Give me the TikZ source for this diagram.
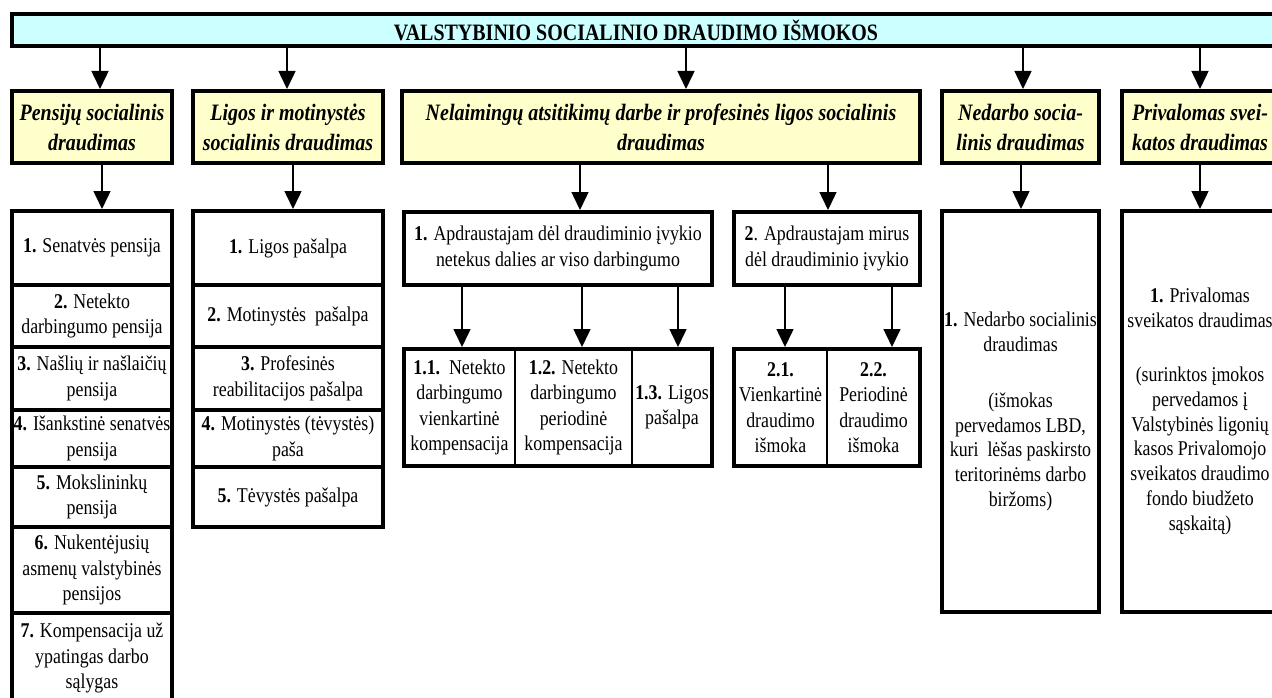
\documentclass[tikz,border=0pt]{standalone}
\usepackage{fontspec}
\setmainfont{Liberation Serif}[FakeStretch=0.85]
\usetikzlibrary{arrows.meta}
\definecolor{bancyan}{HTML}{CCFFFF}
\definecolor{catyellow}{HTML}{FFFFCC}
\tikzset{
  thickbox/.style={draw, line width=4pt, inner sep=0pt, align=center, anchor=center},
  banner/.style={thickbox, fill=bancyan},
  bantext/.style={inner sep=0pt, font=\fontsize{23.5}{28}\selectfont\bfseries},
  cat/.style={thickbox, fill=catyellow, font=\fontsize{23.5}{30}\selectfont\bfseries\itshape},
  item/.style={thickbox, fill=white, font=\fontsize{21}{25.5}\selectfont},
  tallitem/.style={thickbox, fill=white, font=\fontsize{21}{24.8}\selectfont},
  cell/.style={inner sep=0pt, align=center, anchor=center, font=\fontsize{21}{25.5}\selectfont},
  divider/.style={line width=1.5pt},
  arr/.style={line width=1.5pt, -{Triangle[width=17pt,length=18pt]}},
}
\begin{document}
\begin{tikzpicture}[x=1pt,y=-1pt]
\useasboundingbox (0,0) rectangle (1272,698);
\clip (0,0) rectangle (1272,698);

% x positions of connectors
\foreach \n/\x in {a1/100,a2/287,a3/686,a4/1023,a5/1200,
                   b1/102,b2/293,b3/580,b4/828,b5/1021,b6/1200,
                   c1/462,c2/582,c3/678,c4/785,c5/892}
  \coordinate (\n) at (\x,0);

% banner
\node[banner, minimum width=1278pt, minimum height=32pt] (banner) at (651,30) {};
\node[bantext] (bannertext) at (636,30) {VALSTYBINIO SOCIALINIO DRAUDIMO IŠMOKOS};

% level 2
\node[cat, minimum width=160pt, minimum height=72pt] (pens) at (92,127) {Pensijų socialinis\\draudimas};
\node[cat, minimum width=190pt, minimum height=72pt] (ligos) at (288,127) {Ligos ir motinystės\\socialinis draudimas};
\node[cat, minimum width=518pt, minimum height=72pt] (nel) at (661,127) {Nelaimingų atsitikimų darbe ir profesinės ligos socialinis\\draudimas};
\node[cat, minimum width=157pt, minimum height=72pt] (ned) at (1020.5,127) {Nedarbo socia-\\linis draudimas};
\node[cat, minimum width=156pt, minimum height=72pt] (priv) at (1200,127) {Privalomas svei-\\katos draudimas};

% pensions list
\node[item, minimum width=160pt, minimum height=74pt] (p1) at (92,248) {\textbf{1.} Senatvės pensija};
\node[item, minimum width=160pt, minimum height=62pt] (p2) at (92,316) {\textbf{2.} Netekto\\darbingumo pensija};
\node[item, minimum width=160pt, minimum height=63pt] (p3) at (92,378.5) {\textbf{3.} Našlių ir našlaičių\\pensija};
\node[item, minimum width=160pt, minimum height=57pt] (p4) at (92,438.5) {\textbf{4.} Išankstinė senatvės\\pensija};
\node[item, minimum width=160pt, minimum height=60pt] (p5) at (92,497) {\textbf{5.} Mokslininkų\\pensija};
\node[item, minimum width=160pt, minimum height=86pt] (p6) at (92,570) {\textbf{6.} Nukentėjusių\\asmenų valstybinės\\pensijos};
\node[item, minimum width=160pt, minimum height=90pt] (p7) at (92,658) {\textbf{7.} Kompensacija už\\ypatingas darbo\\sąlygas};

% sickness list
\node[item, minimum width=190pt, minimum height=74pt] (l1) at (288,248) {\textbf{1.} Ligos pašalpa};
\node[item, minimum width=190pt, minimum height=62pt] (l2) at (288,316) {\textbf{2.} Motinystės\ \ pašalpa};
\node[item, minimum width=190pt, minimum height=63pt] (l3) at (288,378.5) {\textbf{3.} Profesinės\\reabilitacijos pašalpa};
\node[item, minimum width=190pt, minimum height=57pt] (l4) at (288,438.5) {\textbf{4.} Motinystės (tėvystės)\\paša};
\node[item, minimum width=190pt, minimum height=60pt] (l5) at (288,497) {\textbf{5.} Tėvystės pašalpa};

% accidents
\node[item, minimum width=308pt, minimum height=73pt] (n1) at (558,248.5) {\textbf{1.} Apdraustajam dėl draudiminio įvykio\\netekus dalies ar viso darbingumo};
\node[item, minimum width=186pt, minimum height=73pt] (n2) at (827,248.5) {\textbf{2}. Apdraustajam mirus\\dėl draudiminio įvykio};

\node[item, minimum width=308pt, minimum height=117pt] (s1) at (558,407.5) {};
\node[cell, minimum width=111pt, minimum height=117pt] (c11) at (459.5,407.5) {\textbf{1.1.}\ \ Netekto\\darbingumo\\vienkartinė\\kompensacija};
\node[cell, minimum width=117pt, minimum height=117pt] (c12) at (573.5,407.5) {\textbf{1.2.} Netekto\\darbingumo\\periodinė\\kompensacija};
\node[cell, minimum width=80pt, minimum height=117pt] (c13) at (672,407.5) {\textbf{1.3.} Ligos\\pašalpa};
\draw[divider] (c11.north east) -- (c11.south east);
\draw[divider] (c12.north east) -- (c12.south east);

\node[item, minimum width=186pt, minimum height=117pt] (s2) at (827,407.5) {};
\node[cell, minimum width=93pt, minimum height=117pt] (c21) at (780.5,407.5) {\textbf{2.1.}\\Vienkartinė\\draudimo\\išmoka};
\node[cell, minimum width=93pt, minimum height=117pt] (c22) at (873.5,407.5) {\textbf{2.2.}\\Periodinė\\draudimo\\išmoka};
\draw[divider] (c21.north east) -- (c21.south east);

% unemployment
\node[tallitem, minimum width=157pt, minimum height=401pt] (ned3) at (1020.5,411.5)
  {\textbf{1.} Nedarbo socialinis\\draudimas\\[31pt](išmokas\\pervedamos LBD,\\kuri\ \ lėšas paskirsto\\teritorinėms darbo\\biržoms)};
% health
\node[tallitem, minimum width=156pt, minimum height=401pt] (priv3) at (1200,411.5)
  {\textbf{1.} Privalomas\\sveikatos draudimas\\[29pt](surinktos įmokos\\pervedamos į\\Valstybinės ligonių\\kasos Privalomojo\\sveikatos draudimo\\fondo biudžeto\\sąskaitą)};

% connectors banner -> categories
\draw[arr] (banner.south -| a1) -- (pens.north -| a1);
\draw[arr] (banner.south -| a2) -- (ligos.north -| a2);
\draw[arr] (banner.south -| a3) -- (nel.north -| a3);
\draw[arr] (banner.south -| a4) -- (ned.north -| a4);
\draw[arr] (banner.south -| a5) -- (priv.north -| a5);

% categories -> lists
\draw[arr] (pens.south -| b1) -- (p1.north -| b1);
\draw[arr] (ligos.south -| b2) -- (l1.north -| b2);
\draw[arr] (nel.south -| b3) -- (n1.north -| b3);
\draw[arr] (nel.south -| b4) -- (n2.north -| b4);
\draw[arr] (ned.south -| b5) -- (ned3.north -| b5);
\draw[arr] (priv.south -| b6) -- (priv3.north -| b6);

% accident sub-items
\draw[arr] (n1.south -| c1) -- (s1.north -| c1);
\draw[arr] (n1.south -| c2) -- (s1.north -| c2);
\draw[arr] (n1.south -| c3) -- (s1.north -| c3);
\draw[arr] (n2.south -| c4) -- (s2.north -| c4);
\draw[arr] (n2.south -| c5) -- (s2.north -| c5);
\end{tikzpicture}
\end{document}
